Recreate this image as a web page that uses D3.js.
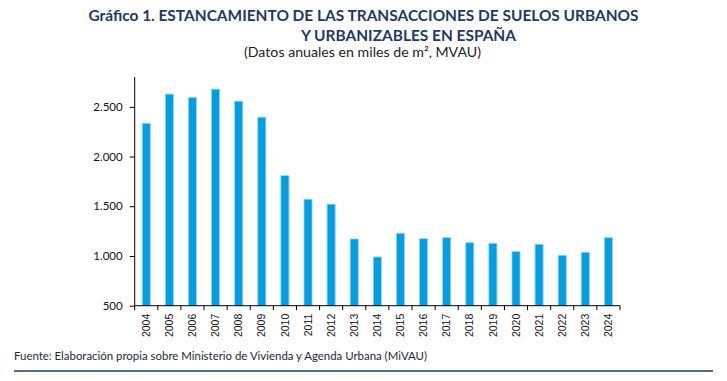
<!DOCTYPE html>
<html>
<head>
<meta charset="utf-8">
<script src="https://cdn.jsdelivr.net/npm/d3@7"></script>
<style>
  html, body { margin: 0; padding: 0; background: #fff; }
  svg { display: block; }
</style>
</head>
<body>
<svg id="chart" width="727" height="381"></svg>
<script>
const years = ["2004","2005","2006","2007","2008","2009","2010","2011","2012","2013","2014","2015","2016","2017","2018","2019","2020","2021","2022","2023","2024"];
const values = [2335, 2628, 2594, 2678, 2557, 2396, 1808, 1571, 1521, 1171, 990, 1229, 1174, 1184, 1134, 1128, 1044, 1118, 1007, 1037, 1184];
const yTicks = [500, 1000, 1500, 2000, 2500];
const yDomain = [500, 2800];
const titleLine1 = "Gráfico 1. ESTANCAMIENTO DE LAS TRANSACCIONES DE SUELOS URBANOS";
const titleLine2 = "Y URBANIZABLES EN ESPAÑA";
const subtitle = "(Datos anuales en miles de m², MVAU)";
const source = "Fuente: Elaboración propia sobre Ministerio de Vivienda y Agenda Urbana (MiVAU)";

const svg = d3.select("#chart");
const pLeft = 134.7, pRight = 620, pTop = 77, pBottom = 305.7;

const x = d3.scaleBand().domain(years).range([pLeft, pRight]).paddingInner(0.65).paddingOuter(0.325);
const y = d3.scaleLinear().domain(yDomain).range([pBottom, pTop]);
const locale = d3.formatLocale({decimal: ",", thousands: ".", grouping: [3], currency: ["", "€"]});
const fmt = locale.format(",");

// Titles
const navy = "#1F3864";
function fitText(sel, w) {
  sel.attr("textLength", w).attr("lengthAdjust", "spacingAndGlyphs");
}
svg.append("text").attr("x", 88.5).attr("y", 20.7)
  .attr("font-family", "Lato, 'Open Sans', sans-serif").attr("font-weight", 700)
  .attr("font-size", 15.5).attr("fill", navy).text(titleLine1).call(fitText, 550);
svg.append("text").attr("x", 301).attr("y", 40.5)
  .attr("font-family", "Lato, 'Open Sans', sans-serif").attr("font-weight", 700)
  .attr("font-size", 15.5).attr("fill", navy).text(titleLine2).call(fitText, 215);
svg.append("text").attr("x", 244).attr("y", 57)
  .attr("font-family", "Lato, 'Open Sans', sans-serif")
  .attr("font-size", 13.5).attr("fill", "#222").text(subtitle).call(fitText, 237);

// Bars
svg.append("g").selectAll("rect").data(years).join("rect")
  .attr("x", d => x(d))
  .attr("y", (d, i) => y(values[i]))
  .attr("width", x.bandwidth())
  .attr("height", (d, i) => y(yDomain[0]) - y(values[i]))
  .attr("fill", "#009FE3")
  .attr("stroke", "#9CCFF0")
  .attr("stroke-width", 0.8);

// Y axis
const yAxis = svg.append("g").attr("transform", `translate(${pLeft},0)`)
  .call(d3.axisLeft(y).tickValues(yTicks).tickSize(5).tickPadding(7).tickFormat(fmt));
yAxis.select(".domain").attr("stroke", "#000").attr("d", `M0,${pBottom}V${pTop}`);
yAxis.selectAll("text").attr("font-family", "Lato, 'Liberation Sans', sans-serif").attr("font-size", 11.5).attr("fill", "#111");

// X axis
const xAxis = svg.append("g").attr("transform", `translate(0,${pBottom})`)
  .call(d3.axisBottom(x).tickSize(0).tickPadding(8));
xAxis.select(".domain").attr("stroke", "#000").attr("d", `M${pLeft},0H${pRight}`);
xAxis.selectAll("text")
  .attr("transform", "rotate(-90)")
  .attr("text-anchor", "end")
  .attr("dy", "0.35em")
  .attr("x", -8).attr("y", 0)
  .attr("font-family", "'Liberation Sans', Arial, sans-serif").attr("font-size", 10.5).attr("fill", "#111");
// Ticks at category boundaries
const step = x.step();
const boundaries = [years[0]].concat(years).map((d, i) => i === 0 ? x(d) + x.bandwidth()/2 - step/2 : x(d) + x.bandwidth()/2 + step/2);
svg.append("g").selectAll("line").data(boundaries).join("line")
  .attr("x1", d => d).attr("x2", d => d)
  .attr("y1", pBottom).attr("y2", pBottom + 4.5)
  .attr("stroke", "#000");

// Source
svg.append("text").attr("x", 14).attr("y", 360)
  .attr("font-family", "Lato, 'Open Sans', sans-serif")
  .attr("font-size", 11).attr("fill", "#1a2a40").text(source).call(fitText, 413);
svg.append("line").attr("x1", 14).attr("x2", 713).attr("y1", 371).attr("y2", 371)
  .attr("stroke", "#1F3A5A").attr("stroke-width", 1.5);
</script>
</body>
</html>
